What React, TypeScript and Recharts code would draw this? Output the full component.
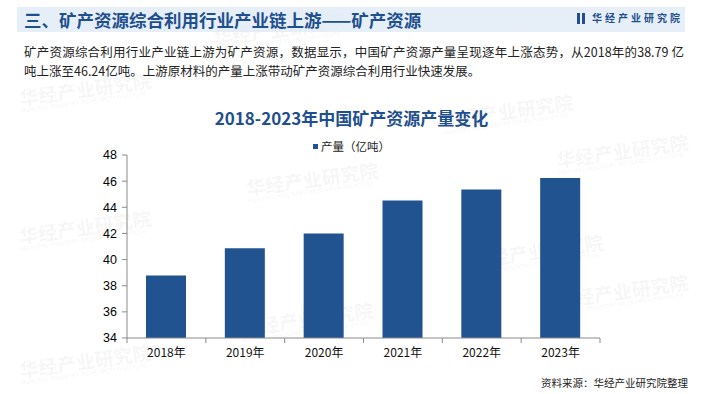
import React from "react";
import {
  BarChart,
  Bar,
  XAxis,
  YAxis,
} from "recharts";

// values
const years = ["2018年", "2019年", "2020年", "2021年", "2022年", "2023年"];
const output = [38.79, 40.86, 41.99, 44.52, 45.36, 46.24];
const yTicks = [34, 36, 38, 40, 42, 44, 46, 48];
const seriesName = "产量（亿吨）";

const chartData = years.map((year, i) => ({ year, output: output[i] }));

const W = 703;
const H = 394;
const PLOT_LEFT = 127;
const PLOT_RIGHT = 600;
const PLOT_TOP = 155;
const PLOT_BOTTOM = 338;
const STEP = (PLOT_RIGHT - PLOT_LEFT) / years.length;

const BLUE = "#1f4f8e";
const BAR = "#215391";
const AXIS = "#8a8a8a";
const CJK = '"Noto Sans CJK SC", "Noto Sans", sans-serif';
const LATIN = '"Liberation Sans", Arial, sans-serif';

const watermarks = [
  { x: 18, y: 88 },
  { x: 212, y: 28 },
  { x: 245, y: 178 },
  { x: 440, y: 110 },
  { x: 18, y: 226 },
  { x: 470, y: 250 },
  { x: 240, y: 318 },
  { x: 18, y: 360 },
  { x: 555, y: 150 },
  { x: 555, y: 290 },
];

function XTick(props: any) {
  const { x, y, payload, index } = props;
  return (
    <g>
      <line x1={x - STEP / 2} x2={x - STEP / 2} y1={y} y2={y + 5} stroke={AXIS} />
      {index === years.length - 1 && (
        <line x1={x + STEP / 2} x2={x + STEP / 2} y1={y} y2={y + 5} stroke={AXIS} />
      )}
      <text
        x={x}
        y={y + 19}
        textAnchor="middle"
        fill="#111"
        fontSize={12}
        fontFamily={CJK}
      >
        {payload.value}
      </text>
    </g>
  );
}

export default function App() {
  return (
    <div
      style={{
        position: "relative",
        width: W,
        height: H,
        background: "#fff",
        overflow: "hidden",
        fontFamily: CJK,
      }}
    >
      <style>{"body{margin:0}"}</style>

      {/* watermarks */}
      {watermarks.map((w, i) => (
        <div
          key={i}
          style={{
            position: "absolute",
            left: w.x,
            top: w.y,
            transform: "rotate(-8deg)",
            transformOrigin: "left top",
            color: "rgba(120,120,120,0.07)",
            fontWeight: 700,
            fontSize: 19,
            lineHeight: "20px",
            whiteSpace: "nowrap",
          }}
        >
          华经产业研究院
          <div style={{ fontSize: 6, lineHeight: "7px", fontFamily: LATIN }}>
            HUAJING INDUSTRY RESEARCH INSTITUTE
          </div>
        </div>
      ))}

      {/* header band */}
      <div
        style={{
          position: "absolute",
          left: 17,
          top: 7,
          width: 668,
          height: 25,
          background: "rgba(222,233,246,0.75)",
        }}
      />
      <div
        style={{
          position: "absolute",
          left: 24,
          top: 7,
          height: 25,
          lineHeight: "25px",
          fontSize: 17.5,
          fontWeight: 700,
          color: BLUE,
          whiteSpace: "nowrap",
        }}
      >
        三、矿产资源综合利用行业产业链上游——矿产资源
      </div>
      <div
        style={{
          position: "absolute",
          left: 577,
          top: 11,
          height: 14,
          lineHeight: "14px",
          fontSize: 10,
          fontWeight: 700,
          color: BLUE,
          letterSpacing: 3,
          whiteSpace: "nowrap",
          display: "flex",
          alignItems: "center",
        }}
      >
        <span
          style={{
            display: "inline-block",
            width: 3,
            height: 11,
            background: BLUE,
            marginRight: 2,
          }}
        />
        <span
          style={{
            display: "inline-block",
            width: 3,
            height: 11,
            background: BLUE,
            marginRight: 7,
          }}
        />
        华经产业研究院
      </div>

      {/* intro text */}
      <div
        style={{
          position: "absolute",
          left: 24,
          top: 42,
          width: 660,
          fontSize: 12.5,
          lineHeight: "19px",
          color: "#222",
        }}
      >
        <div style={{ textAlign: "justify", textAlignLast: "justify" }}>
          矿产资源综合利用行业产业链上游为矿产资源，数据显示，中国矿产资源产量呈现逐年上涨态势，从2018年的38.79 亿
        </div>
        <div>吨上涨至46.24亿吨。上游原材料的产量上涨带动矿产资源综合利用行业快速发展。</div>
      </div>

      {/* chart title */}
      <div
        style={{
          position: "absolute",
          left: 0,
          top: 106,
          width: W,
          textAlign: "center",
          fontSize: 17,
          lineHeight: "24px",
          fontWeight: 700,
          color: BLUE,
        }}
      >
        2018-2023年中国矿产资源产量变化
      </div>

      {/* legend */}
      <div
        style={{
          position: "absolute",
          left: 0,
          top: 138,
          width: W,
          display: "flex",
          justifyContent: "center",
          alignItems: "center",
          fontSize: 11.5,
          lineHeight: "16px",
          color: "#222",
        }}
      >
        <span
          style={{
            display: "inline-block",
            width: 5,
            height: 5,
            background: BAR,
            marginRight: 3,
          }}
        />
        {seriesName}
      </div>

      <div style={{ position: "absolute", left: 0, top: 0 }}>
        <BarChart
          width={W}
          height={H}
          data={chartData}
          margin={{ top: PLOT_TOP, right: W - PLOT_RIGHT, bottom: H - PLOT_BOTTOM - 30, left: 0 }}
        >
          <XAxis
            dataKey="year"
            height={30}
            tickSize={0}
            tickMargin={0}
            tickLine={false}
            axisLine={{ stroke: AXIS }}
            tick={<XTick />}
            interval={0}
          />
          <YAxis
            width={PLOT_LEFT}
            domain={[34, 48]}
            ticks={yTicks}
            allowDataOverflow
            tickSize={5}
            tickMargin={5}
            axisLine={{ stroke: AXIS }}
            tickLine={{ stroke: AXIS }}
            tick={{ fill: "#000", fontSize: 12.5, fontFamily: LATIN }}
          />
          <Bar
            dataKey="output"
            name={seriesName}
            fill={BAR}
            barSize={40}
            isAnimationActive={false}
          />
        </BarChart>
      </div>

      {/* source */}
      <div
        style={{
          position: "absolute",
          left: 541,
          top: 376,
          fontSize: 10.5,
          lineHeight: "14px",
          color: "#222",
          whiteSpace: "nowrap",
        }}
      >
        资料来源：华经产业研究院整理
      </div>
    </div>
  );
}
